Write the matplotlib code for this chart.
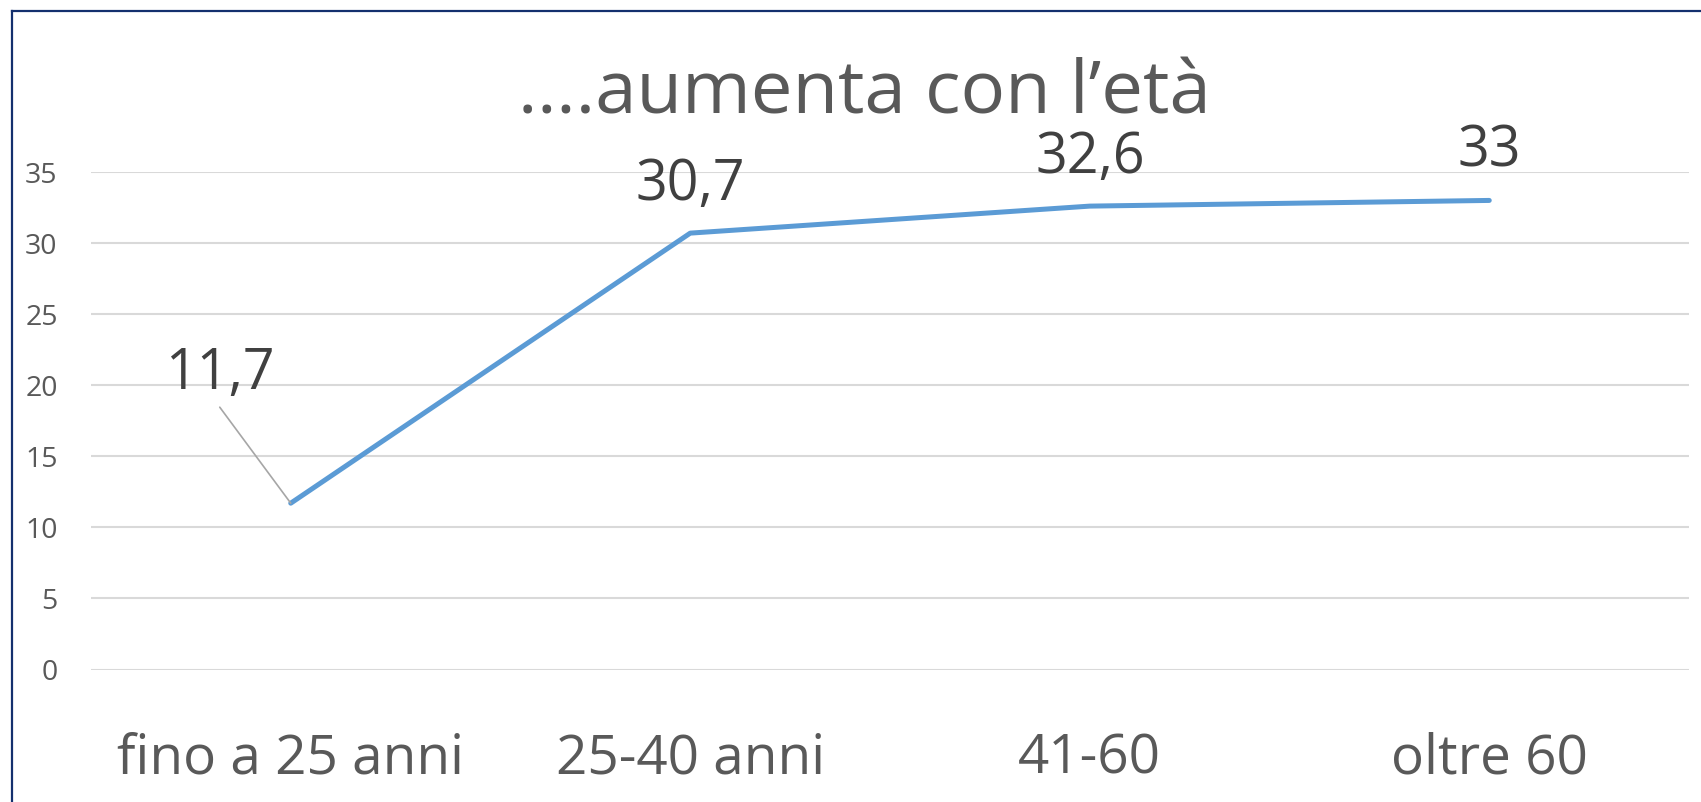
import matplotlib
matplotlib.use("Agg")
import matplotlib.pyplot as plt
from matplotlib.lines import Line2D

categories = ["fino a 25 anni", "25-40 anni", "41-60", "oltre 60"]
values = [11.7, 30.7, 32.6, 33]
value_labels = ["11,7", "30,7", "32,6", "33"]
yticks = [0, 5, 10, 15, 20, 25, 30, 35]
title = "….aumenta con l’età"

plt.rcParams['font.family'] = ['Open Sans', 'DejaVu Sans']

W, H = 1701, 802
fig = plt.figure(figsize=(W / 100, H / 100), dpi=100)
ax = fig.add_axes([91 / W, 1 - 669.5 / H, (1689 - 91) / W, (669.5 - 172) / H])

x = list(range(len(categories)))
ax.plot(x, values, color="#5B9BD5", lw=3.6, solid_capstyle="round", solid_joinstyle="round", zorder=3)

ax.set_xlim(-0.5, len(categories) - 0.5)
ax.set_ylim(0, 35)
ax.set_yticks(yticks)
ax.set_yticklabels([str(v) for v in yticks])
ax.set_xticks(x)
ax.set_xticklabels(categories)
ax.grid(axis="y", color="#D9D9D9", lw=1.5)
ax.set_axisbelow(True)
for s in ax.spines.values():
    s.set_visible(False)
ax.tick_params(axis="y", length=0, pad=24, labelsize=20.5, labelcolor="#595959")
ax.tick_params(axis="x", length=0, pad=45, labelsize=39.5, labelcolor="#595959")

# data labels
offsets = [(-71, 129), (0, 48), (0, 48), (0, 48)]
for xi, v, lab, (dx, dy) in zip(x, values, value_labels, offsets):
    ax.annotate(lab, (xi, v), xytext=(dx, dy), textcoords="offset pixels",
                ha="center", va="center", fontsize=40, color="#404040")
# leader line for first label
ax.annotate("", (x[0], values[0]), xytext=(-71, 96), textcoords="offset pixels",
            arrowprops=dict(arrowstyle="-", color="#A6A6A6", lw=1.2, shrinkA=0, shrinkB=0))

fig.text(864 / W, 1 - 114 / H, title, ha="center", va="baseline", fontsize=53.5, color="#595959")

# chart border (top and left)
fig.add_artist(Line2D([12 / W, 1], [1 - 11 / H, 1 - 11 / H], color="#14306E", lw=1.6))
fig.add_artist(Line2D([12 / W, 12 / W], [0, 1 - 11 / H], color="#14306E", lw=1.6))

fig.savefig("out.png", dpi=100, facecolor="white")
